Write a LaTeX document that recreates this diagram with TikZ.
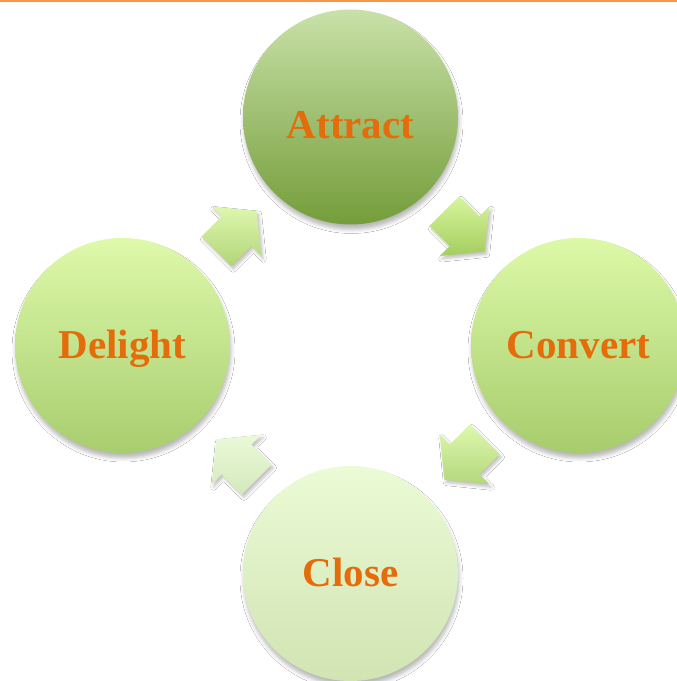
\documentclass[tikz,border=0pt]{standalone}
\usepackage{fontspec}
\setmainfont{Liberation Serif}
\usepackage{tikz}
\usetikzlibrary{calc,shadows.blur}

\definecolor{stagetext}{HTML}{E46C0A}
\definecolor{topline}{HTML}{F79646}
% circle fills, top and bottom of each gradient
\definecolor{attracttop}{RGB}{201,225,168}
\definecolor{attractbot}{RGB}{116,157,58}
\definecolor{converttop}{RGB}{221,249,168}
\definecolor{convertbot}{RGB}{167,204,108}
\definecolor{closetop}{RGB}{235,251,214}
\definecolor{closebot}{RGB}{209,228,178}
\definecolor{delighttop}{RGB}{222,249,170}
\definecolor{delightbot}{RGB}{168,205,110}
% arrow fills
\definecolor{flowAtop}{RGB}{216,246,158}
\definecolor{flowAbot}{RGB}{164,205,94}
\definecolor{flowBtop}{RGB}{222,248,172}
\definecolor{flowBbot}{RGB}{180,215,125}
\definecolor{flowCtop}{RGB}{234,250,216}
\definecolor{flowCbot}{RGB}{212,232,188}
\definecolor{flowDtop}{RGB}{222,247,174}
\definecolor{flowDbot}{RGB}{178,213,120}

\begin{document}
\begin{tikzpicture}[x=1pt,y=1pt,
  stage/.style={circle,minimum size=215pt,inner sep=0pt,text=stagetext,
    font=\fontsize{41}{48}\selectfont\bfseries,text height=27pt,text depth=0pt,
    blur shadow={shadow xshift=1pt,shadow yshift=-5pt,shadow blur radius=4pt,shadow opacity=28}},
  flow/.style={blur shadow={shadow xshift=2pt,shadow yshift=-3pt,shadow blur radius=3pt,shadow opacity=25}}]
\useasboundingbox (0,0) rectangle (677,681);
\clip (0,0) rectangle (677,681);
\fill[white] (0,0) rectangle (677,681);
\fill[topline] (0,678.5) rectangle (677,681);

% the four stages of the cycle
\node[stage,top color=attracttop,bottom color=attractbot,text height=43pt] (attract) at (350.5,564) {Attract};
\node[stage,top color=converttop,bottom color=convertbot] (convert) at (578.5,335.5) {Convert};
\node[stage,top color=closetop,bottom color=closebot] (close) at (350.5,107.5) {Close};
\node[stage,top color=delighttop,bottom color=delightbot] (delight) at (122.5,335.5) {Delight};

% block arrows half way between neighbouring stages (polar corners keep the shading upright)
\foreach \src/\dst/\ang/\tone in {attract/convert/-45/A,convert/close/-135/B,close/delight/135/C,delight/attract/45/D}
  \path[flow,top color=flow\tone top,bottom color=flow\tone bot,shift={($(\src)!0.5!(\dst)$)}]
    (\ang+216.4:35.4) -- (\ang-90:21) -- (\ang-90:35) -- (\ang:28.5)
    -- (\ang+90:35) -- (\ang+90:21) -- (\ang+143.6:35.4) -- cycle;
\end{tikzpicture}
\end{document}
